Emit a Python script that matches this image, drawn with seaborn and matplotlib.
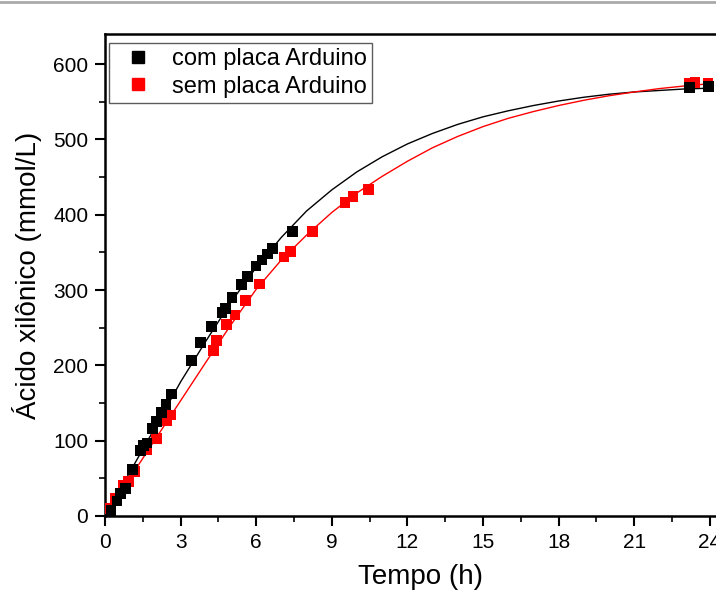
import matplotlib
matplotlib.use("Agg")
import matplotlib.pyplot as plt
import seaborn as sns
import pandas as pd
from matplotlib.lines import Line2D
from matplotlib.ticker import MultipleLocator

com_t = [0.24, 0.48, 0.62, 0.80, 1.08, 1.40, 1.52, 1.67, 1.88, 2.05, 2.25, 2.42,
         2.65, 3.42, 3.78, 4.23, 4.64, 4.78, 5.04, 5.41, 5.67, 5.99, 6.23, 6.45,
         6.66, 7.45, 23.2, 23.95]
com_y = [7, 20, 30, 36, 62, 87, 94, 97, 116, 125, 137, 148,
         162, 206, 230, 252, 270, 276, 290, 307, 318, 332, 340, 348,
         355, 378, 569, 570]

sem_t = [0.20, 0.42, 0.73, 0.93, 1.16, 1.66, 2.05, 2.45, 2.60, 4.30, 4.44, 4.83,
         5.16, 5.59, 6.13, 7.10, 7.36, 8.23, 9.52, 9.84, 10.46, 23.17, 23.41, 23.93]
sem_y = [10, 23, 41, 46, 59, 88, 103, 127, 134, 220, 233, 254,
         267, 286, 308, 344, 351, 378, 416, 424, 434, 574, 576, 574]

# curvas de ajuste (de hora em hora)
ajuste_t = list(range(0, 25))
ajuste_com = [0, 59, 118, 178, 232, 284, 330, 370, 405, 433, 457, 477, 494,
              508, 520, 530, 538, 545, 551, 556, 560, 563, 565, 567, 568]
ajuste_sem = [0, 51, 102, 153, 204, 254, 301, 340, 373, 403, 429, 451, 471,
              489, 504, 517, 528, 537, 545, 552, 558, 563, 567.5, 571, 574]

x_ticks = [0, 3, 6, 9, 12, 15, 18, 21, 24]
y_ticks = [0, 100, 200, 300, 400, 500, 600]

df_com = pd.DataFrame({"t": com_t, "y": com_y})
df_sem = pd.DataFrame({"t": sem_t, "y": sem_y})
df_fit = pd.DataFrame({"t": ajuste_t, "com": ajuste_com, "sem": ajuste_sem})

sns.set_style("ticks")
plt.rcParams["font.family"] = ["Liberation Sans", "DejaVu Sans"]
for k in ["text.color", "axes.labelcolor", "xtick.color", "ytick.color", "axes.edgecolor"]:
    plt.rcParams[k] = "black"

fig = plt.figure(figsize=(7.16, 5.92), dpi=100)
ax = fig.add_axes([0.1466, 0.1284, 0.88, 0.8142])

sns.lineplot(data=df_fit, x="t", y="com", color="black", lw=1.0, ax=ax)
sns.lineplot(data=df_fit, x="t", y="sem", color="#ff0000", lw=1.0, ax=ax)
sns.scatterplot(data=df_sem, x="t", y="y", marker="s", s=60, color="#ff0000",
                edgecolor="none", ax=ax, zorder=3)
sns.scatterplot(data=df_com, x="t", y="y", marker="s", s=60, color="black",
                edgecolor="none", ax=ax, zorder=4)

ax.set_xlim(0, 25)
ax.set_ylim(0, 640)
ax.set_xticks(x_ticks)
ax.set_yticks(y_ticks)
ax.xaxis.set_minor_locator(MultipleLocator(1.5))
ax.yaxis.set_minor_locator(MultipleLocator(50))
ax.tick_params(which="major", direction="out", length=7, width=1.5, labelsize=15, pad=5)
ax.tick_params(which="minor", direction="out", length=4, width=1.2)
for sp in ax.spines.values():
    sp.set_linewidth(1.8)
    sp.set_visible(True)

ax.set_xlabel("Tempo (h)", fontsize=20, labelpad=9)
ax.set_ylabel("Ácido xilônico (mmol/L)", fontsize=20, labelpad=8)

handles = [
    Line2D([], [], ls="none", marker="s", markersize=8, color="black"),
    Line2D([], [], ls="none", marker="s", markersize=8, color="#ff0000"),
]
leg = ax.legend(handles, ["com placa Arduino", "sem placa Arduino"],
                loc="upper left", bbox_to_anchor=(0.006, 0.981), fontsize=17,
                frameon=True, fancybox=False, edgecolor="#333333",
                handlelength=2.0, handletextpad=0.45, borderpad=0.22,
                labelspacing=0.22, borderaxespad=0)
leg.get_frame().set_linewidth(1.0)

fig.add_artist(Line2D([0, 1], [0.997, 0.997], color="#aaaaaa", lw=2,
                      transform=fig.transFigure))

fig.savefig("out.png", dpi=100)
